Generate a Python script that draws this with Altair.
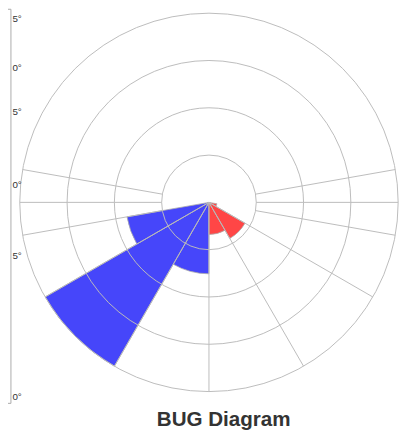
import math
import altair as alt
import pandas as pd

# ---- data (BUG zones, vertical angle from nadir in degrees) ----
zone_side = ["Back", "Back", "Back", "Front", "Front", "Front"]
zone_start = [0, 30, 60, 0, 30, 60]
zone_end = [30, 60, 80, 30, 60, 80]
zone_value = [1.51, 4.0, 1.76, 0.68, 0.88, 0.17]

ring_values = [1, 2, 3, 4]

# grid spokes: angle from nadir, side sign, inner and outer ring
spoke_angle = [0, 30, 30, 60, 60, 80, 80, 90, 90, 100, 100]
spoke_sign = [1, 1, -1, 1, -1, 1, -1, 1, -1, 1, -1]
spoke_r0 = [0, 0, 0, 0, 0, 1, 1, 1, 1, 1, 1]
spoke_r1 = [4, 4, 4, 4, 4, 4, 4, 4, 4, 4, 4]

left_labels = ["5°", "0°", "5°", "0°", "5°", "0°"]

BLUE = "#4646FA"
RED = "#FF4646"
GRID = "#BBBBBB"
R_MAX = 4
R_PX = 193
W = 2 * R_PX

zones = pd.DataFrame({"side": zone_side, "a0": zone_start, "a1": zone_end, "value": zone_value})
rings = pd.DataFrame({"r": ring_values})
spokes = pd.DataFrame({"a": spoke_angle, "s": spoke_sign, "r0": spoke_r0, "r1": spoke_r1})
labels_df = pd.DataFrame({"label": left_labels})
labels_df["py"] = [6, 56, 101, 175, 248, 392]  # pixel rows of the neighbouring panel's labels

theta_scale = alt.Scale(domain=[0, 360], range=[0, 2 * math.pi])
radius_scale = alt.Scale(type="linear", domain=[0, R_MAX], range=[0, R_PX], zero=True, nice=False)
xy_scale_x = alt.Scale(domain=[-R_MAX, R_MAX], nice=False, zero=False)
xy_scale_y = alt.Scale(domain=[-R_MAX, R_MAX], nice=False, zero=False)

wedges = alt.Chart(zones).transform_calculate(
    sgn="datum.side == 'Back' ? 1 : -1",
    t0="180 + datum.sgn * datum.a0",
    t1="180 + datum.sgn * datum.a1",
).mark_arc(stroke="#AAAAAA", strokeWidth=0.8).encode(
    theta=alt.Theta("t0:Q", scale=theta_scale, stack=None),
    theta2="t1:Q",
    radius=alt.Radius("value:Q", scale=radius_scale, stack=None),
    color=alt.Color("side:N", scale=alt.Scale(domain=["Back", "Front"], range=[BLUE, RED]), legend=None),
)

circles = alt.Chart(rings).mark_arc(fillOpacity=0, stroke=GRID, strokeWidth=1).encode(
    theta=alt.value(0),
    theta2=alt.value(2 * math.pi),
    radius=alt.Radius("r:Q", scale=radius_scale, stack=None),
)

spoke_lines = alt.Chart(spokes).transform_calculate(
    phi="(180 + datum.s * datum.a) * PI / 180",
    x0="datum.r0 * sin(datum.phi)",
    y0="datum.r0 * cos(datum.phi)",
    x1="datum.r1 * sin(datum.phi)",
    y1="datum.r1 * cos(datum.phi)",
).mark_rule(color=GRID, strokeWidth=1).encode(
    x=alt.X("x0:Q", scale=xy_scale_x, axis=None),
    y=alt.Y("y0:Q", scale=xy_scale_y, axis=None),
    x2="x1:Q",
    y2="y1:Q",
)

# partially visible neighbouring panel on the left edge
one = pd.DataFrame({"k": [0]})
frame = alt.Chart(one).mark_rule(color="#AAAAAA", strokeWidth=1).encode(
    x=alt.value(-9), y=alt.value(-4), y2=alt.value(398)
)
frame_top = alt.Chart(one).mark_rule(color="#AAAAAA", strokeWidth=1).encode(
    x=alt.value(-14), x2=alt.value(-9), y=alt.value(-4)
)
frame_bot = alt.Chart(one).mark_rule(color="#AAAAAA", strokeWidth=1).encode(
    x=alt.value(-14), x2=alt.value(-9), y=alt.value(398)
)
left_text = alt.Chart(labels_df).mark_text(
    align="left", baseline="middle", fontSize=10, font="Liberation Sans", color="#333333"
).encode(
    x=alt.value(-7.5),
    y=alt.Y("py:Q", scale=alt.Scale(domain=[0, W], range=[0, W], nice=False, zero=False), axis=None),
    text="label:N",
)

chart = alt.layer(
    wedges, circles, spoke_lines, frame, frame_top, frame_bot, left_text
).resolve_scale(y="independent").properties(
    width=W,
    height=W,
    autosize=alt.AutoSizeParams(type="none"),
    padding={"left": 12, "top": 1, "right": 8, "bottom": 40},
    title=alt.TitleParams(
        "BUG Diagram",
        orient="bottom",
        anchor="middle",
        frame="group",
        baseline="alphabetic",
        offset=23,
        dx=15,
        fontSize=21,
        fontWeight="bold",
        font="Liberation Sans",
        color="#333333",
    ),
).configure_view(stroke=None)

chart.save("out.html", embed_options={"renderer": "svg", "actions": False})
